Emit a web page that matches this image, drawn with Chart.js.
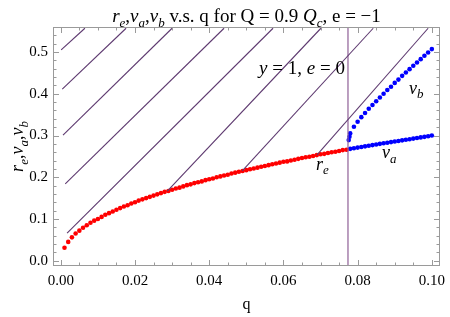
<!DOCTYPE html>
<html>
<head>
<meta charset="utf-8">
<script src="https://cdn.jsdelivr.net/npm/chart.js@4.4.0/dist/chart.umd.min.js"></script>
<style>
  html, body { margin: 0; padding: 0; background: #fff; }
  canvas { display: block; }
</style>
</head>
<body>
<canvas id="chart" width="450" height="317"></canvas>
<script>
"use strict";

// r_e branch (red), q from 0.001 to 0.077
const qRed = [0.001, 0.002, 0.003, 0.004, 0.005, 0.006, 0.007, 0.008, 0.009, 0.010,
  0.011, 0.012, 0.013, 0.014, 0.015, 0.016, 0.017, 0.018, 0.019, 0.020,
  0.021, 0.022, 0.023, 0.024, 0.025, 0.026, 0.027, 0.028, 0.029, 0.030,
  0.031, 0.032, 0.033, 0.034, 0.035, 0.036, 0.037, 0.038, 0.039, 0.040,
  0.041, 0.042, 0.043, 0.044, 0.045, 0.046, 0.047, 0.048, 0.049, 0.050,
  0.051, 0.052, 0.053, 0.054, 0.055, 0.056, 0.057, 0.058, 0.059, 0.060,
  0.061, 0.062, 0.063, 0.064, 0.065, 0.066, 0.067, 0.068, 0.069, 0.070,
  0.071, 0.072, 0.073, 0.074, 0.075, 0.076, 0.077];
const reVals = [0.031, 0.045, 0.056, 0.065, 0.072, 0.079, 0.085, 0.091, 0.096, 0.100,
  0.105, 0.110, 0.114, 0.118, 0.122, 0.126, 0.130, 0.133, 0.137, 0.140,
  0.144, 0.147, 0.150, 0.153, 0.156, 0.159, 0.162, 0.165, 0.167, 0.170,
  0.173, 0.175, 0.178, 0.181, 0.183, 0.186, 0.188, 0.190, 0.193, 0.195,
  0.197, 0.200, 0.202, 0.204, 0.206, 0.209, 0.211, 0.213, 0.215, 0.217,
  0.219, 0.221, 0.223, 0.225, 0.227, 0.229, 0.231, 0.233, 0.235, 0.237,
  0.238, 0.240, 0.242, 0.244, 0.246, 0.248, 0.249, 0.251, 0.253, 0.255,
  0.256, 0.258, 0.260, 0.261, 0.263, 0.265, 0.266];

// v_a branch (blue, lower)
const qBlue = [0.078, 0.079, 0.080, 0.081, 0.082, 0.083, 0.084, 0.085, 0.086, 0.087,
  0.088, 0.089, 0.090, 0.091, 0.092, 0.093, 0.094, 0.095, 0.096, 0.097,
  0.098, 0.099, 0.100];
const vaVals = [0.268, 0.2695, 0.271, 0.2725, 0.274, 0.2755, 0.277, 0.2785, 0.280, 0.2814,
  0.2828, 0.2842, 0.2856, 0.287, 0.2884, 0.2898, 0.2912, 0.2926, 0.294, 0.2954,
  0.2968, 0.2982, 0.300];

// v_b branch (blue, upper), a couple of extra samples right at the branch point
const qVb = [0.0776, 0.0778, 0.078, 0.079, 0.080, 0.081, 0.082, 0.083, 0.084, 0.085,
  0.086, 0.087, 0.088, 0.089, 0.090, 0.091, 0.092, 0.093, 0.094, 0.095,
  0.096, 0.097, 0.098, 0.099, 0.100];
const vbVals = [0.289, 0.297, 0.305, 0.321, 0.333, 0.344, 0.354, 0.364, 0.373, 0.382,
  0.391, 0.400, 0.409, 0.417, 0.426, 0.434, 0.443, 0.451, 0.459, 0.467,
  0.475, 0.483, 0.491, 0.499, 0.507];

// contour lines "y = 1, e = 0": start and end of each segment
const contourQ0 = [0.0001, 0.0004, 0.0006, 0.0012, 0.0017, 0.0287, 0.0489, 0.0690];
const contourV0 = [0.505, 0.411, 0.301, 0.184, 0.066, 0.167, 0.215, 0.253];
const contourQ1 = [0.0065, 0.0176, 0.0300, 0.0440, 0.0572, 0.0701, 0.0842, 0.0990];
const contourV1 = [0.557, 0.557, 0.557, 0.557, 0.557, 0.557, 0.557, 0.557];

const qCrit = 0.0774;

const xTickVals = [0, 0.02, 0.04, 0.06, 0.08, 0.10];
const xTickLabels = ["0.00", "0.02", "0.04", "0.06", "0.08", "0.10"];
const yTickVals = [0, 0.1, 0.2, 0.3, 0.4, 0.5];
const yTickLabels = ["0.0", "0.1", "0.2", "0.3", "0.4", "0.5"];

const X_MIN = -0.0021, X_MAX = 0.1022, Y_MIN = -0.0127, Y_MAX = 0.560;

const SERIF = '"Liberation Serif", "Times New Roman", serif';
const font = (size, it) => (it ? "italic " : "") + size + "px " + SERIF;

// parts: [text, flags]; flags may contain "i" (italic) and "s" (subscript)
function partFont(p, size) {
  const f = p[1] || "";
  return font(f.includes("s") ? Math.round(size * 0.7) : size, f.includes("i"));
}
function richWidth(ctx, parts, size) {
  let w = 0;
  parts.forEach((p) => { ctx.font = partFont(p, size); w += ctx.measureText(p[0]).width; });
  return w;
}
function drawRich(ctx, parts, x, y, size, align) {
  const w = richWidth(ctx, parts, size);
  let cx = align === "center" ? x - w / 2 : align === "right" ? x - w : x;
  ctx.textAlign = "left";
  ctx.textBaseline = "alphabetic";
  parts.forEach((p) => {
    const f = p[1] || "";
    ctx.font = partFont(p, size);
    ctx.fillText(p[0], cx, f.includes("s") ? y + size * 0.25 : y);
    cx += ctx.measureText(p[0]).width;
  });
}

const TITLE = [["r", "i"], ["e", "is"], [","], ["v", "i"], ["a", "is"], [","], ["v", "i"], ["b", "is"],
  [" v.s. q for Q = 0.9 "], ["Q", "i"], ["c", "is"], [", e = \u22121"]];
const YLABEL = [["r", "i"], ["e", "is"], [","], ["v", "i"], ["a", "is"], [","], ["v", "i"], ["b", "is"]];

const framePlugin = {
  id: "frame",
  afterDraw(chart) {
    const { ctx, chartArea: a, scales: { x, y } } = chart;
    ctx.save();
    ctx.strokeStyle = "#9a9a9a";
    ctx.lineWidth = 1;
    ctx.strokeRect(a.left + 0.5, a.top + 0.5, a.right - a.left - 1, a.bottom - a.top - 1);

    ctx.beginPath();
    for (let i = 0; i <= 20; i++) {
      const v = i * 0.005;
      const px = Math.round(x.getPixelForValue(v)) + 0.5;
      const len = i % 4 === 0 ? 6 : 3.5;
      ctx.moveTo(px, a.bottom); ctx.lineTo(px, a.bottom - len);
      ctx.moveTo(px, a.top); ctx.lineTo(px, a.top + len);
    }
    for (let i = 0; i <= 27; i++) {
      const v = i * 0.02;
      const py = Math.round(y.getPixelForValue(v)) + 0.5;
      const len = i % 5 === 0 ? 6 : 3.5;
      ctx.moveTo(a.left, py); ctx.lineTo(a.left + len, py);
      ctx.moveTo(a.right, py); ctx.lineTo(a.right - len, py);
    }
    ctx.stroke();

    ctx.fillStyle = "#000";
    ctx.font = font(15, false);
    ctx.textAlign = "center";
    ctx.textBaseline = "middle";
    xTickVals.forEach((v, i) => ctx.fillText(xTickLabels[i], x.getPixelForValue(v), 281));
    ctx.textAlign = "right";
    yTickVals.forEach((v, i) => ctx.fillText(yTickLabels[i], 48, y.getPixelForValue(v)));

    // title and axis labels
    drawRich(ctx, TITLE, (a.left + a.right) / 2, 22, 19, "center");
    ctx.font = font(16, false);
    ctx.textAlign = "center";
    ctx.textBaseline = "alphabetic";
    ctx.fillText("q", (a.left + a.right) / 2, 309);
    ctx.save();
    ctx.translate(23, (a.top + a.bottom) / 2);
    ctx.rotate(-Math.PI / 2);
    drawRich(ctx, YLABEL, 0, 0, 18, "center");
    ctx.restore();

    // in-plot annotations
    drawRich(ctx, [["y", "i"], [" = 1, "], ["e", "i"], [" = 0"]], 302, 74, 19, "center");
    drawRich(ctx, [["r", "i"], ["e", "is"]], x.getPixelForValue(0.0705), y.getPixelForValue(0.218), 18, "center");
    drawRich(ctx, [["v", "i"], ["a", "is"]], x.getPixelForValue(0.0885), y.getPixelForValue(0.246), 18, "center");
    drawRich(ctx, [["v", "i"], ["b", "is"]], x.getPixelForValue(0.0958), y.getPixelForValue(0.400), 18, "center");
    ctx.restore();
  },
};

const pts = (qs, vs) => qs.map((q, i) => ({ x: q, y: vs[i] }));

const contourSets = contourQ0.map((q0, i) => ({
  data: [{ x: q0, y: contourV0[i] }, { x: contourQ1[i], y: contourV1[i] }],
  showLine: true,
  borderColor: "#5e3a70",
  borderWidth: 1.1,
  pointRadius: 0,
}));

const dotStyle = (color) => ({
  showLine: false,
  backgroundColor: color,
  borderColor: color,
  borderWidth: 0,
  pointRadius: 2.3,
});

new Chart(document.getElementById("chart"), {
  type: "scatter",
  data: {
    datasets: [
      ...contourSets,
      {
        data: [{ x: qCrit, y: Y_MIN }, { x: qCrit, y: Y_MAX }],
        showLine: true, borderColor: "#8f5f96", borderWidth: 1.2, pointRadius: 0,
      },
      { data: pts(qRed, reVals), ...dotStyle("#ff0000") },
      { data: pts(qBlue, vaVals), ...dotStyle("#0000ff") },
      { data: pts(qVb, vbVals), ...dotStyle("#0000ff") },
    ],
  },
  options: {
    responsive: false,
    animation: false,
    devicePixelRatio: 1,
    layout: { padding: { left: 53, right: 10, top: 27, bottom: 51 } },
    plugins: { legend: { display: false }, tooltip: { enabled: false } },
    scales: {
      x: { type: "linear", min: X_MIN, max: X_MAX, display: false },
      y: { type: "linear", min: Y_MIN, max: Y_MAX, display: false },
    },
  },
  plugins: [framePlugin],
});
</script>
</body>
</html>
